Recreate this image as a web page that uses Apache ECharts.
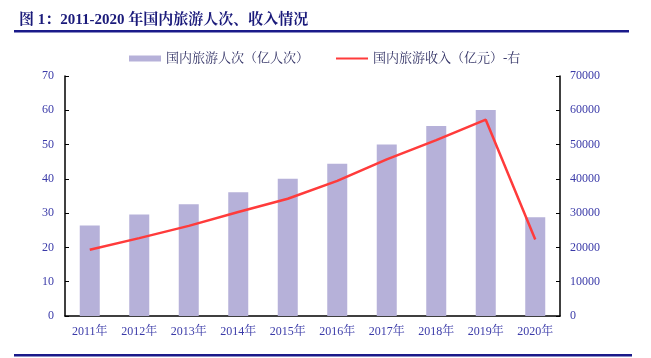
<!DOCTYPE html>
<html><head><meta charset="utf-8">
<script src="https://cdn.jsdelivr.net/npm/echarts@6/dist/echarts.min.js"></script>
<style>html,body{margin:0;padding:0;background:#fff}#c{width:651px;height:358px}</style>
</head><body><div id="c"></div>
<script>
var categories = ['2011年','2012年','2013年','2014年','2015年','2016年','2017年','2018年','2019年','2020年'];
var visitors = [26.4, 29.6, 32.6, 36.1, 40.0, 44.4, 50.0, 55.4, 60.1, 28.8];
var revenue = [19305, 22706, 26276, 30312, 34195, 39390, 45661, 51278, 57251, 22286];
var titleText = '图 1：2011-2020 年国内旅游人次、收入情况';
var seriesNames = ['国内旅游人次（亿人次）', '国内旅游收入（亿元）-右'];

var serif = '"Liberation Serif","Times New Roman","Noto Serif CJK SC","Noto Sans CJK SC",serif';
var labelColor = '#3a3aa8';
var chart = echarts.init(document.getElementById('c'), null, {renderer: 'canvas'});
chart.setOption({
  animation: false,
  title: {text: titleText, left: 14, top: 8,
    textStyle: {fontFamily: serif, fontSize: 15, fontWeight: 'bold', color: '#1a1a7a'}},
  graphic: [
    {type: 'rect', shape: {x: 14, y: 30, width: 615, height: 2.5}, style: {fill: '#1a1a8a'}},
    {type: 'rect', shape: {x: 14, y: 354, width: 618, height: 2.5}, style: {fill: '#1a1a8a'}}
  ],
  legend: {
    top: 47, left: 124, itemGap: 27, itemWidth: 32, itemHeight: 6,
    textStyle: {fontFamily: serif, fontSize: 13, color: '#333366'},
    data: [
      {name: seriesNames[0], icon: 'rect'},
      {name: seriesNames[1], icon: 'path://M0,0 L32,0 L32,2 L0,2 Z'}
    ]
  },
  grid: {left: 65, right: 91, top: 76, bottom: 42},
  xAxis: {
    type: 'category', data: categories,
    axisLine: {lineStyle: {color: '#000', width: 1.5}},
    axisTick: {inside: true, length: 4, lineStyle: {color: '#000'}},
    axisLabel: {fontFamily: serif, fontSize: 12, color: labelColor, margin: 10}
  },
  yAxis: [
    {type: 'value', min: 0, max: 70, interval: 10,
     axisLine: {show: true, lineStyle: {color: '#000', width: 1.5}},
     axisTick: {show: true, inside: true, length: 4, lineStyle: {color: '#000'}},
     splitLine: {show: false},
     axisLabel: {fontFamily: serif, fontSize: 12, color: labelColor, margin: 11}},
    {type: 'value', min: 0, max: 70000, interval: 10000, position: 'right',
     axisLine: {show: true, lineStyle: {color: '#000', width: 1.5}},
     axisTick: {show: true, inside: true, length: 4, lineStyle: {color: '#000'}},
     splitLine: {show: false},
     axisLabel: {fontFamily: serif, fontSize: 12, color: labelColor, margin: 10,
       formatter: function (v) { return String(v); }}}
  ],
  series: [
    {name: seriesNames[0], type: 'bar', data: visitors, barWidth: 20,
     itemStyle: {color: '#b6b1d9'}},
    {name: seriesNames[1], type: 'line', yAxisIndex: 1, data: revenue,
     symbol: 'none', lineStyle: {color: '#ff3b3b', width: 2.5}, itemStyle: {color: '#ff3b3b'}}
  ]
});
</script></body></html>
